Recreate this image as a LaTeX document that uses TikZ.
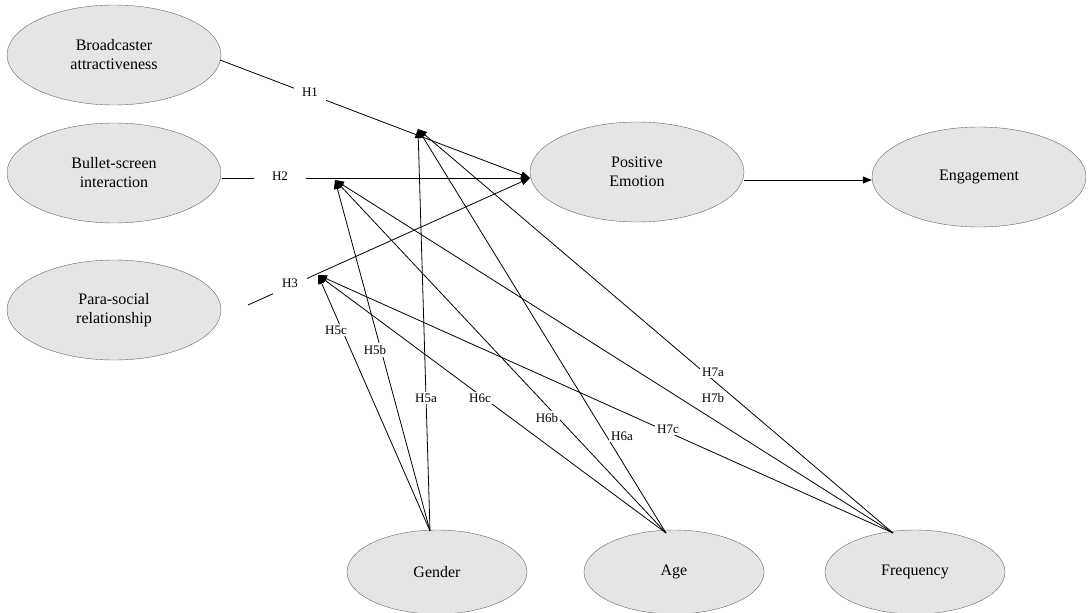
\documentclass[tikz,border=0pt]{standalone}
\usepackage{fontspec}
\setmainfont{Liberation Serif}
\usetikzlibrary{shapes.geometric,arrows.meta}
\begin{document}
\begin{tikzpicture}[x=1pt,y=-1pt,
 ell/.style={ellipse,draw=black!60,fill=black!10,minimum width=214pt,minimum height=100pt,align=center,font=\fontsize{16}{19}\selectfont},
 sell/.style={ellipse,draw=black!60,fill=black!10,minimum width=180pt,minimum height=84pt,font=\fontsize{16}{19}\selectfont},
 lab/.style={fill=white,inner sep=2pt,font=\fontsize{13}{15}\selectfont},
 arr/.style={-{Triangle[length=9pt,width=7pt]},thick},
 ln/.style={thick}]
\useasboundingbox (0,0) rectangle (1090,613);
\node[ell] (ba) at (114,55) {Broadcaster\\attractiveness};
\node[ell] (bs) at (114,173) {Bullet-screen\\interaction};
\node[ell] (ps) at (114,310) {Para-social\\relationship};
\node[ell] (pe) at (637,172) {Positive\\Emotion};
\node[ell] (en) at (979,177) {Engagement};
\node[sell] (ge) at (437,572) {Gender};
\node[sell] (ag) at (674,572) {Age};
\node[sell] (fr) at (915,572) {Frequency};
\coordinate (m1) at (418,129);
\coordinate (m2) at (335,180);
\coordinate (m3) at (318,275);
\coordinate (s1) at (220,60);
\coordinate (s2) at (222,178);
\coordinate (s3) at (248,305);
\coordinate (t) at (530,178);
\coordinate (g) at (430,531);
\coordinate (a) at (666,533);
\coordinate (f) at (893,533);
% main paths
\draw[arr] (s1) -- (t);
\draw[arr] (s2) -- (t);
\draw[arr] (s3) -- (t);
\draw[arr] (pe.east |- 0,180) -- (en.west |- 0,180);
% moderators
\draw[arr] (g) -- (m1); \draw[arr] (g) -- (m2); \draw[arr] (g) -- (m3);
\draw[arr] (a) -- (m1); \draw[arr] (a) -- (m2); \draw[arr] (a) -- (m3);
\draw[arr] (f) -- (m1); \draw[arr] (f) -- (m2); \draw[arr] (f) -- (m3);
% labels
\node[lab,inner sep=8pt] at (310,92) {H1};
\node[lab,inner xsep=18pt] at (280,176) {H2};
\node[lab,inner sep=9pt] at (290,283) {H3};
\node[lab] at (336,330) {H5c};
\node[lab] at (375,350) {H5b};
\node[lab] at (426,398) {H5a};
\node[lab] at (480,398) {H6c};
\node[lab] at (547,418) {H6b};
\node[lab] at (622,436) {H6a};
\node[lab] at (713,372) {H7a};
\node[lab] at (713,398) {H7b};
\node[lab] at (668,429) {H7c};
\end{tikzpicture}
\end{document}
